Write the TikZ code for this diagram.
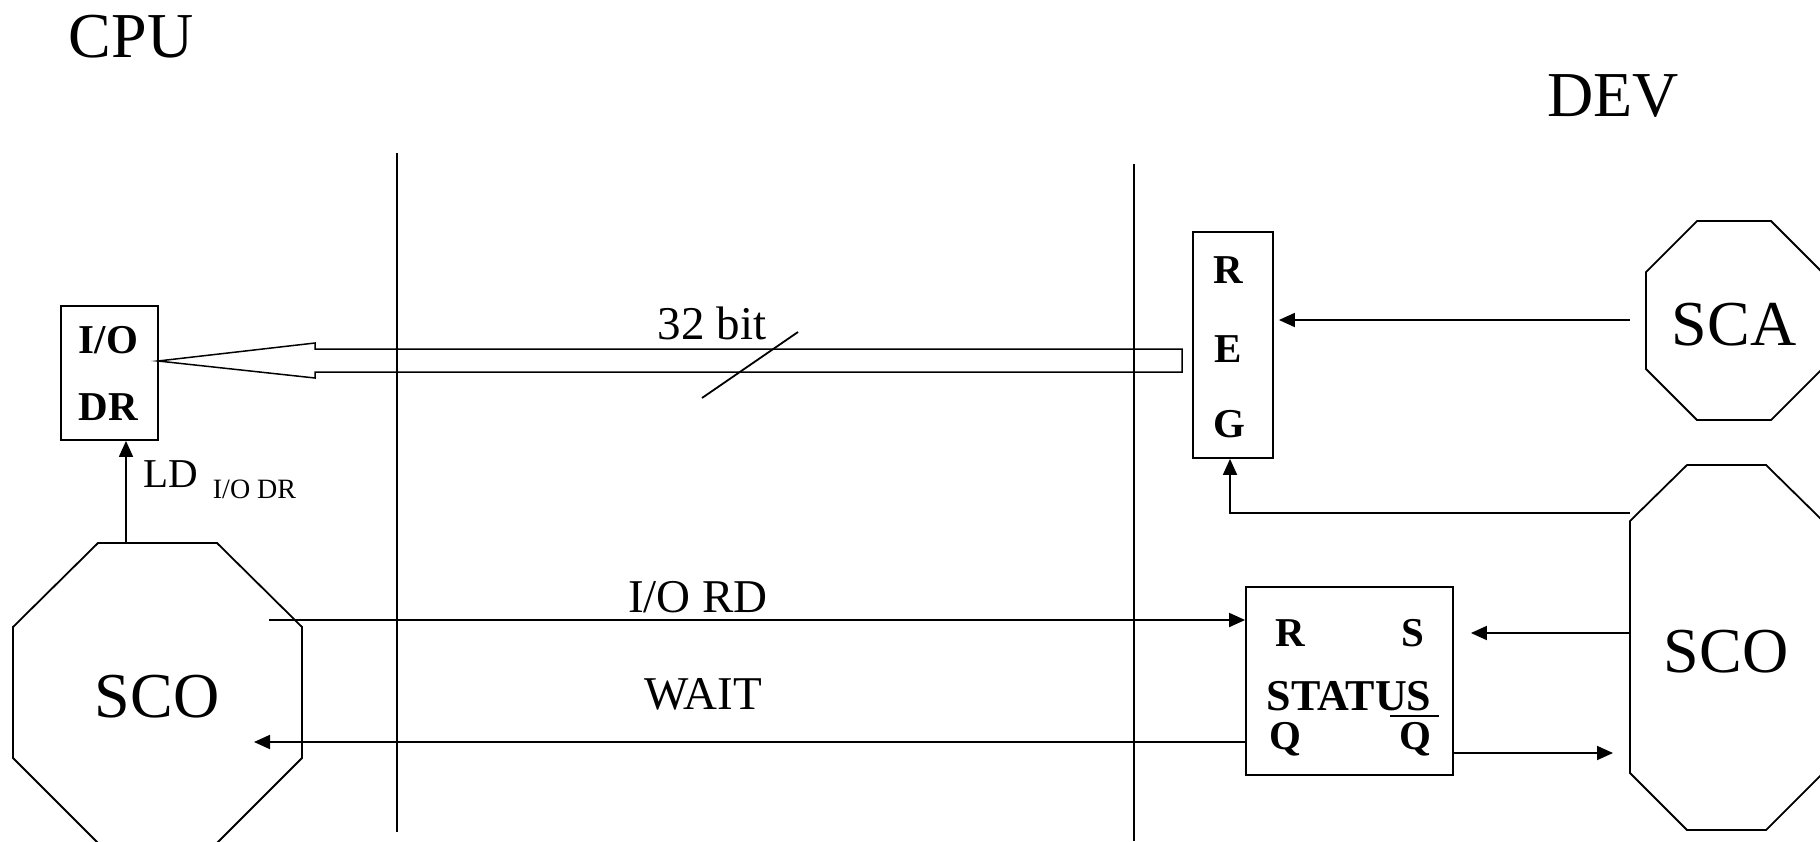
\documentclass[tikz,border=0pt]{standalone}
\usepackage{fontspec}
\setmainfont{Liberation Serif}
\usetikzlibrary{arrows.meta,calc}
\begin{document}
\begin{tikzpicture}[x=1pt,y=-1pt, line width=1.8pt,
  txt/.style={anchor=base, inner sep=0pt},
  big/.style={txt, font=\fontsize{64}{70}\selectfont},
  mid/.style={txt, font=\fontsize{47}{54}\selectfont},
  bld/.style={txt, font=\fontsize{41}{48}\selectfont\bfseries},
  box/.style={draw, inner sep=0pt},
  arr/.style={-{Triangle[length=16pt,width=14pt]}},
  oct/.style={draw, line join=miter}]
\useasboundingbox (0,0) rectangle (1820,841);

% titles
\node[big] (cpu) at (131,57) {CPU};
\node[big] (dev) at (1613,116) {DEV};

% separators
\coordinate (v1t) at (397,153); \coordinate (v1b) at (397,832);
\coordinate (v2t) at (1134,164); \coordinate (v2b) at (1134,841);
\draw (v1t) -- (v1b);
\draw (v2t) -- (v2b);

% octagons
\draw[oct] (13,627) -- (98,543) -- (217,543) -- (302,627) -- (302,758) -- (217,843) -- (98,843) -- (13,758) -- cycle;
\node[big] (scoL) at (157,717) {SCO};
\draw[oct] (1646,272) -- (1697,221) -- (1771,221) -- (1822,272) -- (1822,369) -- (1771,420) -- (1697,420) -- (1646,369) -- cycle;
\node[big] (sca) at (1734,345) {SCA};
\draw[oct] (1630,521) -- (1687,465) -- (1766,465) -- (1823,521) -- (1823,773) -- (1766,830) -- (1687,830) -- (1630,773) -- cycle;
\node[big] (scoR) at (1726,672) {SCO};

% boxes
\node[box, minimum width=97pt, minimum height=134pt] (iodr) at (109.5,373) {};
\node[bld] (tio) at (108.5,353) {I/O};
\node[bld] (tdr) at (108.5,420) {DR};

\node[box, minimum width=80pt, minimum height=226pt] (reg) at (1233,345) {};
\node[bld] (tR) at (1228,283) {R};
\node[bld] (tE) at (1228,362) {E};
\node[bld] (tG) at (1229,437) {G};

\node[box, minimum width=207pt, minimum height=188pt] (status) at (1349.5,681) {};
\node[bld] (sR) at (1290,646) {R};
\node[bld] (sS) at (1413,646) {S};
\node[bld, font=\fontsize{44}{50}\selectfont\bfseries] (sStatus) at (1349,710) {STATUS};
\node[bld] (sQ) at (1285,749) {Q};
\node[bld] (sQb) at (1415,749) {Q};
\draw[line width=1.6pt] ($(sQb.north west)+(-8,-5)$) -- ($(sQb.north east)+(7,-5)$);

% 32-bit bus
\coordinate (bustip) at (158,361);
\draw[line width=1.5pt, line join=miter] (bustip) -- (315,343) -- (315,349) -- (1182,349) -- (1182,372) -- (315,372) -- (315,378) -- cycle;
\coordinate (sl1) at (702,398); \coordinate (sl2) at (798,332);
\draw (sl1) -- (sl2);
\node[mid] (bit) at (712,339) {32 bit};

% LD
\coordinate (scoLtop) at (126,543);
\draw[arr] (scoLtop) -- (iodr.south -| scoLtop);
\node[txt, anchor=base west, font=\fontsize{41}{48}\selectfont] (ld) at (143,487) {LD};
\node[txt, anchor=base west, font=\fontsize{28}{32}\selectfont] (ldsub) at (212,498) {I/O DR};

% I/O RD and WAIT
\coordinate (scoLa) at (269,620);
\coordinate (scoLb) at (254,742);
\draw[arr] (scoLa) -- (status.west |- scoLa);
\draw[arr] (status.west |- scoLb) -- (scoLb);
\node[mid] (iord) at (698,612) {I/O RD};
\node[mid] (wait) at (703,709) {WAIT};

% device side
\coordinate (scaOut) at (1630,320);
\draw[arr] (scaOut) -- ([xshift=5pt]reg.east |- scaOut);
\coordinate (scoRa) at (1630,513);
\draw[arr] (scoRa) -| ([xshift=-3pt]reg.south);
\coordinate (scoRb) at (1630,633);
\draw[arr] (scoRb) -- ([xshift=17pt]status.east |- scoRb);
\coordinate (qout) at (1453,753);
\coordinate (scoRin) at (1613,753);
\draw[arr] (qout) -- (scoRin);
\end{tikzpicture}
\end{document}
